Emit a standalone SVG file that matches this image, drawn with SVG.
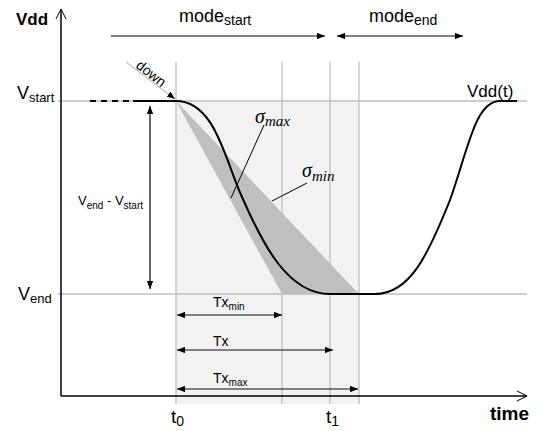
<svg xmlns="http://www.w3.org/2000/svg" width="548" height="431" viewBox="0 0 548 431">
<defs>
<style>
text{font-family:"Liberation Sans",Arial,sans-serif;fill:#000}
.math{font-family:"Liberation Serif","Times New Roman",serif;font-style:italic}
.grid{stroke:#bfbfbf;stroke-width:1.3;fill:none}
.ax{stroke:#000;stroke-width:1.5;fill:none}
.arr{stroke:#000;stroke-width:1.2;fill:none}
.tx{stroke:#595959;stroke-width:1.6;fill:none}
.curve{stroke:#000;stroke-width:2;fill:none}
.lead{stroke:#000;stroke-width:1;fill:none}
</style>
<marker id="ah" viewBox="0 0 10 8" refX="10" refY="4" markerWidth="8" markerHeight="6.4" markerUnits="userSpaceOnUse" orient="auto-start-reverse">
<path d="M0,0 L10,4 L0,8 Z" fill="#000"/>
</marker>
<marker id="open" viewBox="0 0 12 12" refX="11" refY="6" markerWidth="12" markerHeight="12" markerUnits="userSpaceOnUse" orient="auto">
<path d="M1,1 L11,6 L1,11" fill="none" stroke="#000" stroke-width="1"/>
</marker>
</defs>
<rect width="548" height="431" fill="#fff"/>

<g id="shading">
<rect x="176" y="101" width="183" height="303" fill="#f2f2f2"/>
<polygon points="176,101 282,294 359,294" fill="#bfbfbf"/>
</g>

<g id="gridlines">
<line class="grid" x1="58" y1="101" x2="527" y2="101"/>
<line class="grid" x1="58" y1="294" x2="527" y2="294"/>
<line class="grid" x1="176" y1="62" x2="176" y2="404"/>
<line class="grid" x1="282" y1="62" x2="282" y2="404"/>
<line class="grid" x1="330" y1="62" x2="330" y2="404"/>
<line class="grid" x1="359" y1="62" x2="359" y2="404"/>
</g>

<g id="axes">
<line class="ax" x1="61" y1="396" x2="61" y2="9" marker-end="url(#open)"/>
<line class="ax" x1="61" y1="396" x2="527" y2="396" marker-end="url(#open)"/>
<text x="16" y="25" font-size="17" font-weight="bold">Vdd</text>
<text x="490" y="420" font-size="19" font-weight="bold">time</text>
</g>

<g id="vdd-curve">
<line class="curve" x1="90" y1="101" x2="130" y2="101" stroke-dasharray="6,5"/>
<path class="curve" d="M133,101 L176,101 C215,101 225,160 242,197 C263,245 288,294 330,294 L375,294 C410,294 428,255 450,200 C468,150 475,101 500,101 L517,101"/>
<text x="467" y="97" font-size="17">Vdd(t)</text>
</g>

<g id="connectors">
<line class="arr" x1="111" y1="36" x2="325" y2="36" marker-end="url(#ah)"/>
<line class="arr" x1="337" y1="36" x2="463" y2="36" marker-start="url(#ah)" marker-end="url(#ah)"/>
<line class="arr" x1="150" y1="106" x2="150" y2="289" marker-start="url(#ah)" marker-end="url(#ah)"/>
<line x1="126" y1="62" x2="175" y2="99" stroke="#a6a6a6" stroke-width="1" marker-end="url(#ah)"/>
<line class="tx" x1="177" y1="315" x2="282" y2="315" marker-start="url(#ah)" marker-end="url(#ah)"/>
<line class="tx" x1="177" y1="350" x2="333" y2="350" marker-start="url(#ah)" marker-end="url(#ah)"/>
<line class="tx" x1="177" y1="389" x2="358" y2="389" marker-start="url(#ah)" marker-end="url(#ah)"/>
<line class="lead" x1="264" y1="125" x2="231" y2="198"/>
<line class="lead" x1="307" y1="183" x2="272" y2="201"/>
</g>

<g id="labels">
<text x="179" y="22" font-size="18">mode<tspan font-size="14" dy="3">start</tspan></text>
<text x="369" y="22" font-size="18">mode<tspan font-size="14" dy="3">end</tspan></text>
<text x="17" y="99" font-size="18">V<tspan font-size="13" dy="3">start</tspan></text>
<text x="18" y="300" font-size="18">V<tspan font-size="13" dy="3">end</tspan></text>
<text x="78" y="205" font-size="13">V<tspan font-size="10" dy="4">end</tspan><tspan dy="-4"> - V</tspan><tspan font-size="10" dy="4">start</tspan></text>
<text transform="translate(135,67) rotate(38)" font-size="14" fill="#404040">down</text>
<text class="math" x="255" y="123" font-size="20">σ<tspan font-size="15" dy="3">max</tspan></text>
<text class="math" x="302" y="177" font-size="20">σ<tspan font-size="15" dy="4">min</tspan></text>
<text x="213" y="307" font-size="14">Tx<tspan font-size="10" dy="3">min</tspan></text>
<text x="213" y="346" font-size="14">Tx</text>
<text x="213" y="383" font-size="14">Tx<tspan font-size="10" dy="3">max</tspan></text>
<text x="171" y="423" font-size="19">t<tspan font-size="14" dy="3">0</tspan></text>
<text x="326" y="423" font-size="19">t<tspan font-size="14" dy="3">1</tspan></text>
</g>
</svg>
